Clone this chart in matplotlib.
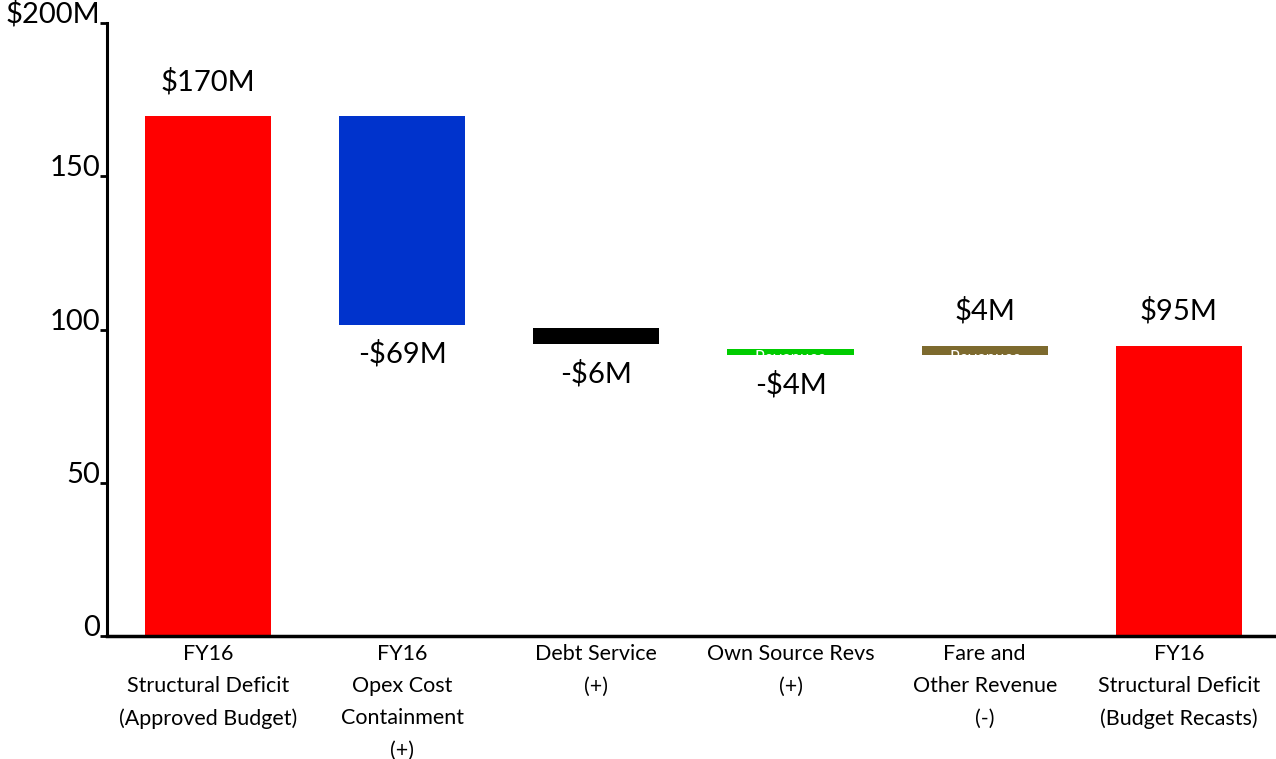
import matplotlib
matplotlib.use("Agg")
import matplotlib.pyplot as plt

plt.rcParams['font.family'] = ['Lato', 'DejaVu Sans']

categories = [
    "FY16\nStructural Deficit\n(Approved Budget)",
    "FY16\nOpex Cost\nContainment\n(+)",
    "Debt Service\n(+)",
    "Own Source Revs\n(+)",
    "Fare and\nOther Revenue\n(-)",
    "FY16\nStructural Deficit\n(Budget Recasts)",
]
bar_bottom = [0, 101.5, 95.2, 91.6, 91.6, 0]
bar_top = [169.5, 169.5, 100.6, 93.8, 94.5, 94.5]
value_labels = ["$170M", "-$69M", "-$6M", "-$4M", "$4M", "$95M"]
label_above = [True, False, False, False, True, True]
inner_text = ["", "", "", "Revenues", "Revenues", ""]
colors = ["#FF0000", "#0033CC", "#000000", "#00CC00", "#7D6A2E", "#FF0000"]
yticks = [0, 50, 100, 150, 200]
yticklabels = ["0", "50", "100", "150", "$200M"]

fig = plt.figure(figsize=(12.76, 7.59), dpi=100)
ax = fig.add_axes([0.0839, 0.162, 0.9161, 0.8077])

x = list(range(len(categories)))
heights = [t - b for t, b in zip(bar_top, bar_bottom)]
ax.bar(x, heights, bottom=bar_bottom, width=0.65, color=colors, zorder=2)

for i in x:
    if label_above[i]:
        ax.text(i, bar_top[i] + 7, value_labels[i], ha='center', va='bottom', fontsize=21)
    else:
        ax.text(i, bar_bottom[i] - 5, value_labels[i], ha='center', va='top', fontsize=21)
    if inner_text[i]:
        ax.text(i, bar_bottom[i] + 1.8, inner_text[i], ha='center', va='top',
                fontsize=12, color='white', zorder=3)

ax.set_xlim(-0.52, 5.5)
ax.set_ylim(0, 200)
ax.set_yticks(yticks)
ax.set_yticklabels(yticklabels, fontsize=21)
ax.set_xticks(x)
ax.set_xticklabels(categories, fontsize=15.5, linespacing=1.75)
ax.tick_params(axis='x', length=0, pad=6)
ax.tick_params(axis='y', length=5, width=2, pad=0, direction='out')
for lab in ax.get_yticklabels():
    lab.set_verticalalignment('baseline')

for s in ['top', 'right']:
    ax.spines[s].set_visible(False)
ax.spines['left'].set_linewidth(2.2)
ax.spines['bottom'].set_linewidth(2.5)

fig.savefig("out.png", dpi=100)
